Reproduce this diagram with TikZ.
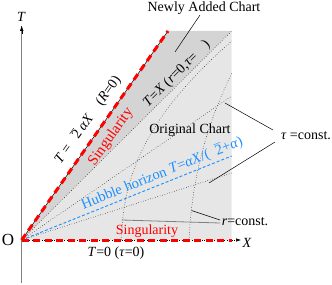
\documentclass[tikz,border=0pt]{standalone}
\usepackage{fontspec}
\setmainfont{Liberation Serif}
\usetikzlibrary{arrows.meta}
\definecolor{lightg}{RGB}{230,230,230}
\definecolor{darkg}{RGB}{212,212,212}
\definecolor{hblue}{RGB}{30,144,255}
\newcommand{\ovtwo}{\ensuremath{\overline{\hbox{2}}}}
\begin{document}
\begin{tikzpicture}[x=1pt,y=1pt,font=\fontsize{14}{16}\selectfont,
  dotline/.style={black,line width=0.5pt,dotted},
  redsing/.style={red,line width=3pt,dash pattern=on 7pt off 4.5pt},
  pointer/.style={black,line width=0.5pt},
  lbl/.style={inner sep=0pt}]
\useasboundingbox (0,0) rectangle (332,284);
% key points
\coordinate (O) at (21.7,44);
\coordinate (Ttop) at (21.7,258);
\coordinate (Tbot) at (21.7,1);
\coordinate (Xend) at (241,44);
\coordinate (S) at (168,253);
\coordinate (C) at (231.7,253);
\coordinate (R) at (231.7,44);
\coordinate (F1) at (231.7,188);
\coordinate (Hb) at (231.7,128);
\coordinate (F2) at (231.7,111);
\coordinate (r2a) at (121.7,44);
\coordinate (r2b) at (231.7,243);
\coordinate (r1a) at (189,44);
\coordinate (r1b) at (231.7,211);
% shaded charts
\fill[lightg] (O) -- (C) -- (R) -- cycle;
\fill[darkg] (O) -- (S) -- (C) -- cycle;
% tau = const lines
\draw[dotline] (O) -- (C);
\draw[dotline] (O) -- (F1);
\draw[dotline] (O) -- (F2);
% r = const curves
\draw[dotline] (r2a) .. controls (121.7,120) and (160,180) .. (r2b);
\draw[dotline] (r1a) .. controls (192,105) and (205,155) .. (r1b);
% Hubble horizon
\draw[hblue,line width=0.9pt,dash pattern=on 3pt off 2pt] (O) -- (Hb);
% axes
\draw[gray,line width=1pt] (Tbot) -- (Ttop);
\draw[-{Latex[length=5pt,width=3.5pt]},black,line width=0.1pt] (21.7,250) -- (Ttop);
\draw[dotline,-{Latex[length=5pt,width=3.5pt]}] (O) -- (Xend);
% singular boundaries
\draw[black,line width=0.5pt] (O) -- (S);
\draw[redsing] (O) -- (S);
\draw[redsing] (O) -- (R);
% labels
\node[lbl] (Olbl) at (8,44) {\fontsize{17}{19}\selectfont O};
\node[lbl] (Tlbl) at (21.5,267) {\textit{T}};
\node[lbl] (Xlbl) at (247,41) {\textit{X}};
\node[lbl] (newc) at (204,276) {Newly Added Chart};
\node[lbl] (orig) at (190,154) {Original Chart};
\node[lbl,rotate=45] (txl) at (177,210) {\textit{T}=\textit{X} (\textit{r}=0,\textit{τ}=\hspace{0.9em})};
\node[lbl,rotate=54.7] (sq) at (87.5,164) {\textit{T} = \kern0.5em\ovtwo\ \textit{αX}\quad(\textit{R}=0)};
\node[lbl,rotate=54.7,red] (sing1) at (111,147) {\fontsize{15}{17}\selectfont Singularity};
\node[lbl,red] (sing2) at (147,53) {Singularity};
\node[lbl] (t0) at (116,31) {\textit{T}=0 (\textit{τ}=0)};
\node[lbl,rotate=22,hblue] (hub) at (162,111) {\fontsize{14.5}{16}\selectfont Hubble horizon \textit{T}=\textit{αX}/(\kern0.5em\ovtwo+\textit{α})};
\node[lbl] (tau) at (306,148) {\textit{τ} =const.};
\node[lbl] (rc) at (245,62) {\textit{r}=const.};
% pointers
\coordinate (p1) at (200,269);
\coordinate (p1e) at (175,232);
\draw[pointer] (p1) -- (p1e);
\coordinate (tp1) at (273,154);
\coordinate (tp1e) at (225,181);
\coordinate (tp2) at (275,142);
\coordinate (tp2e) at (209,101);
\draw[pointer] (tp1) -- (tp1e);
\draw[pointer] (tp2) -- (tp2e);
\coordinate (rp1) at (220,64);
\coordinate (rp1e) at (191.5,73.5);
\coordinate (rp2) at (220,61);
\coordinate (rp2e) at (121.7,64);
\draw[pointer] (rp1) -- (rp1e);
\draw[gray,line width=0.8pt] (rp2) -- (rp2e);
\end{tikzpicture}
\end{document}
